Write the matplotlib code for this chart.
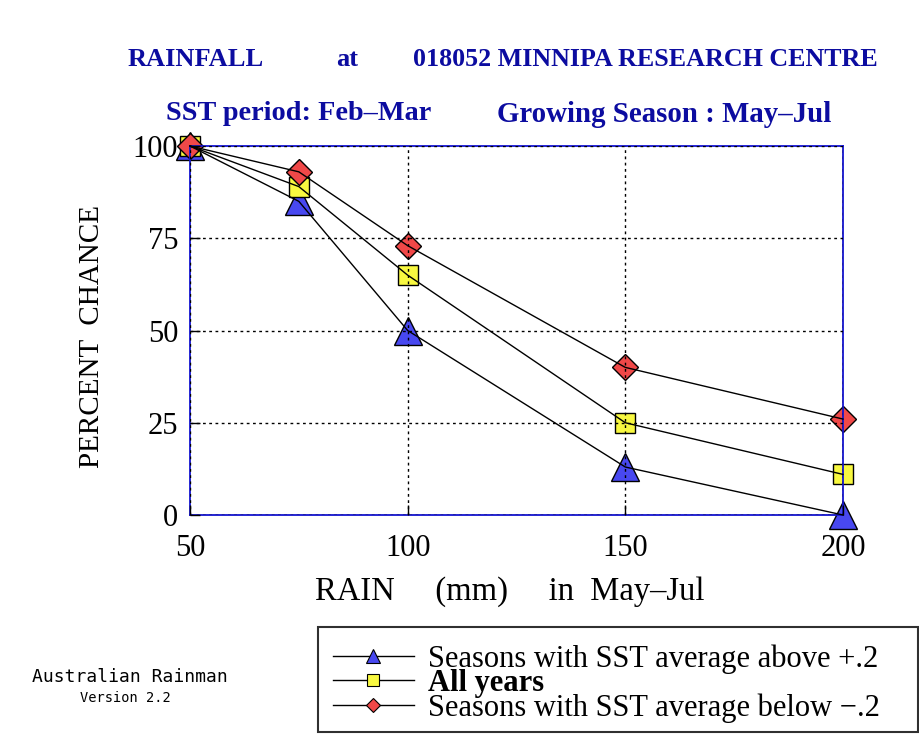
import matplotlib.pyplot as plt
from matplotlib.lines import Line2D
from matplotlib.patches import Rectangle

# rainfall thresholds (mm) and chance of exceeding them (%)
rain_mm = [50, 75, 100, 150, 200]
above_pos = [100, 85, 50, 13, 0]      # SST average above +.2
all_years = [100, 89, 65, 25, 11]
below_neg = [100, 93, 73, 40, 26]     # SST average below -.2

x_ticks = [50, 100, 150, 200]
y_ticks = [0, 25, 50, 75, 100]

series = [
    (above_pos, "^", "#4848f0", 19.5, "Seasons with SST average above +.2"),
    (all_years, "s", "#f8f840", 15.0, "All years"),
    (below_neg, "D", "#f04848", 13.0, "Seasons with SST average below \u2212.2"),
]

W, H = 920, 734
title_blue = "#0c0ca0"
axis_blue = "#1414d0"
serif = "Liberation Serif"


def fx(px):
    return px / W


def fy(py):
    return 1 - py / H


fig = plt.figure(figsize=(W / 100, H / 100), dpi=100)
ax = fig.add_axes([fx(190), fy(515), (843 - 190) / W, (515 - 146) / H])

for vals, mk, col, ms, _ in series:
    # markers under the grid and spines, connecting lines on top
    ax.plot(rain_mm, vals, linestyle="none", marker=mk, markersize=ms,
            markerfacecolor=col, markeredgecolor="black", markeredgewidth=1.0,
            clip_on=False, zorder=2)
for vals, mk, col, ms, _ in series:
    ax.plot(rain_mm, vals, color="black", lw=1.0, clip_on=False, zorder=3)

ax.set_xlim(50, 200)
ax.set_ylim(0, 100)
ax.set_xticks(x_ticks)
ax.set_yticks(y_ticks)
ax.set_axisbelow(False)
ax.grid(True, color="black", linestyle=(0, (2, 2.5)), lw=1.0)

for sp in ax.spines.values():
    sp.set_color(axis_blue)
    sp.set_linewidth(1.3)

ax.tick_params(direction="in", length=7, width=1, color="black",
               labelsize=22, labelfontfamily=serif)
ax.tick_params(axis="x", pad=14)
ax.tick_params(axis="y", pad=8.5)

ax.set_xlabel("RAIN     (mm)     in  May\u2013Jul", family=serif, fontsize=23.5)
ax.xaxis.set_label_coords(0.489, -0.165)
ax.set_ylabel("PERCENT  CHANCE", family=serif, fontsize=21)
ax.yaxis.set_label_coords(-0.13, 0.484)

# heading lines
fig.text(fx(128), fy(59), "RAINFALL", color=title_blue, family=serif,
         fontsize=19, fontweight="bold", va="center")
fig.text(fx(336), fy(59), "at", color=title_blue, family=serif,
         fontsize=19, fontweight="bold", va="center")
fig.text(fx(413), fy(59), "018052 MINNIPA RESEARCH CENTRE", color=title_blue,
         family=serif, fontsize=18.7, fontweight="bold", va="center")
fig.text(fx(166), fy(114), "SST period: Feb\u2013Mar", color=title_blue,
         family=serif, fontsize=20.3, fontweight="bold", va="center")
fig.text(fx(497), fy(114), "Growing Season : May\u2013Jul", color=title_blue,
         family=serif, fontsize=20.8, fontweight="bold", va="center")

# program tag bottom left
fig.text(fx(130), fy(677), "Australian Rainman", family="DejaVu Sans Mono",
         fontsize=13, ha="center", va="center")
fig.text(fx(125), fy(698), "Version 2.2", family="DejaVu Sans Mono",
         fontsize=9.8, ha="center", va="center")

# legend with its own square frame
fig.patches.append(Rectangle((fx(318), fy(732)), 600 / W, 105 / H,
                             transform=fig.transFigure, fill=False,
                             edgecolor="#303030", lw=1.5))
handles = [Line2D([], [], color="black", lw=1.0, marker=mk,
                  markersize=ms * 0.55, markerfacecolor=col,
                  markeredgecolor="black", markeredgewidth=0.8)
           for _, mk, col, ms, _ in series]
labels = [s[4] for s in series]
leg = fig.legend(handles, labels, loc="upper left",
                 bbox_to_anchor=(fx(333), fy(644)), frameon=False,
                 borderpad=0, borderaxespad=0, handlelength=2.65,
                 handletextpad=0.45, labelspacing=-0.15,
                 prop={"family": serif, "size": 22})
leg.get_texts()[1].set_fontweight("bold")

fig.savefig("out.png", dpi=100, facecolor="white")
